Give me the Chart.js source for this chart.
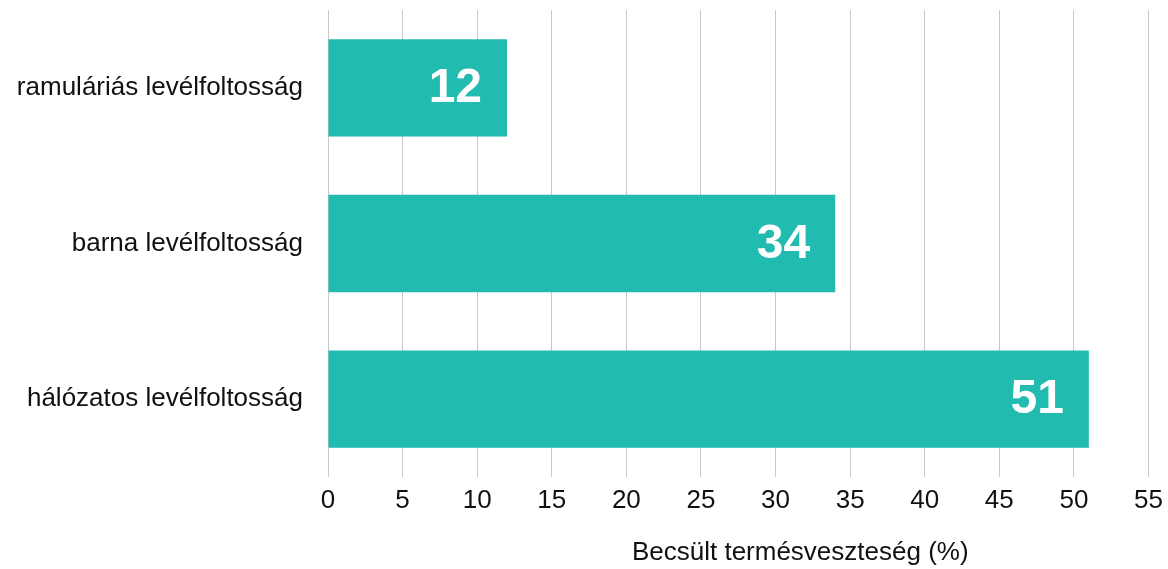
<!DOCTYPE html>
<html>
<head>
<meta charset="utf-8">
<script src="https://cdn.jsdelivr.net/npm/chart.js@4/dist/chart.umd.min.js"></script>
<style>
  html, body { margin: 0; padding: 0; background: #fff; }
  #wrap { width: 1168px; height: 569px; }
</style>
</head>
<body>
<div id="wrap"><canvas id="chart"></canvas></div>
<script>
const categories = ['ramuláriás levélfoltosság', 'barna levélfoltosság', 'hálózatos levélfoltosság'];
const lossValues = [12, 34, 51];
const xTicks = [0, 5, 10, 15, 20, 25, 30, 35, 40, 45, 50, 55];
const xTitle = 'Becsült termésveszteség (%)';

const FONT = '"Liberation Sans", Helvetica, Arial, sans-serif';

// white value labels at the bar end + the axis title (sits right of centre in the original)
const valueLabels = {
  id: 'valueLabels',
  afterDatasetsDraw(chart) {
    const ctx = chart.ctx;
    const meta = chart.getDatasetMeta(0);
    ctx.save();
    ctx.fillStyle = '#ffffff';
    ctx.font = 'bold 48px ' + FONT;
    ctx.textAlign = 'right';
    ctx.textBaseline = 'middle';
    meta.data.forEach((bar, i) => {
      ctx.fillText(String(lossValues[i]), bar.x - 25, bar.y + 1);
    });
    ctx.restore();
  },
  afterDraw(chart) {
    const ctx = chart.ctx;
    const area = chart.chartArea;
    ctx.save();
    ctx.fillStyle = '#111';
    ctx.font = '26px ' + FONT;
    ctx.textAlign = 'center';
    ctx.textBaseline = 'middle';
    ctx.fillText(xTitle, (area.left + area.right) / 2 + 62, chart.height - 16);
    ctx.restore();
  }
};

new Chart(document.getElementById('chart'), {
  type: 'bar',
  data: {
    labels: categories,
    datasets: [{
      data: lossValues,
      backgroundColor: '#21bbb0',
      borderWidth: 0,
      categoryPercentage: 1,
      barPercentage: 0.625
    }]
  },
  options: {
    indexAxis: 'y',
    responsive: true,
    maintainAspectRatio: false,
    animation: false,
    layout: { padding: { top: 10, right: 19.5, left: 0, bottom: 0 } },
    plugins: {
      legend: { display: false },
      tooltip: { enabled: false }
    },
    scales: {
      x: {
        min: 0,
        max: 55,
        afterBuildTicks: (scale) => { scale.ticks = xTicks.map(v => ({ value: v })); },
        afterFit: (scale) => {
          scale.height = 92;
          scale.paddingLeft = 0;
          scale.paddingRight = 0;
        },
        border: { display: false },
        grid: { color: '#c8c8c8', lineWidth: 1, drawTicks: false },
        ticks: {
          color: '#111',
          font: { family: FONT, size: 26 },
          padding: 8
        }
      },
      y: {
        afterFit: (scale) => {
          scale.width = 328;
          scale.paddingTop = 0;
          scale.paddingBottom = 0;
        },
        border: { display: false },
        grid: { display: false },
        ticks: {
          color: '#111',
          font: { family: FONT, size: 26 },
          padding: 17
        }
      }
    }
  },
  plugins: [valueLabels]
});
</script>
</body>
</html>
